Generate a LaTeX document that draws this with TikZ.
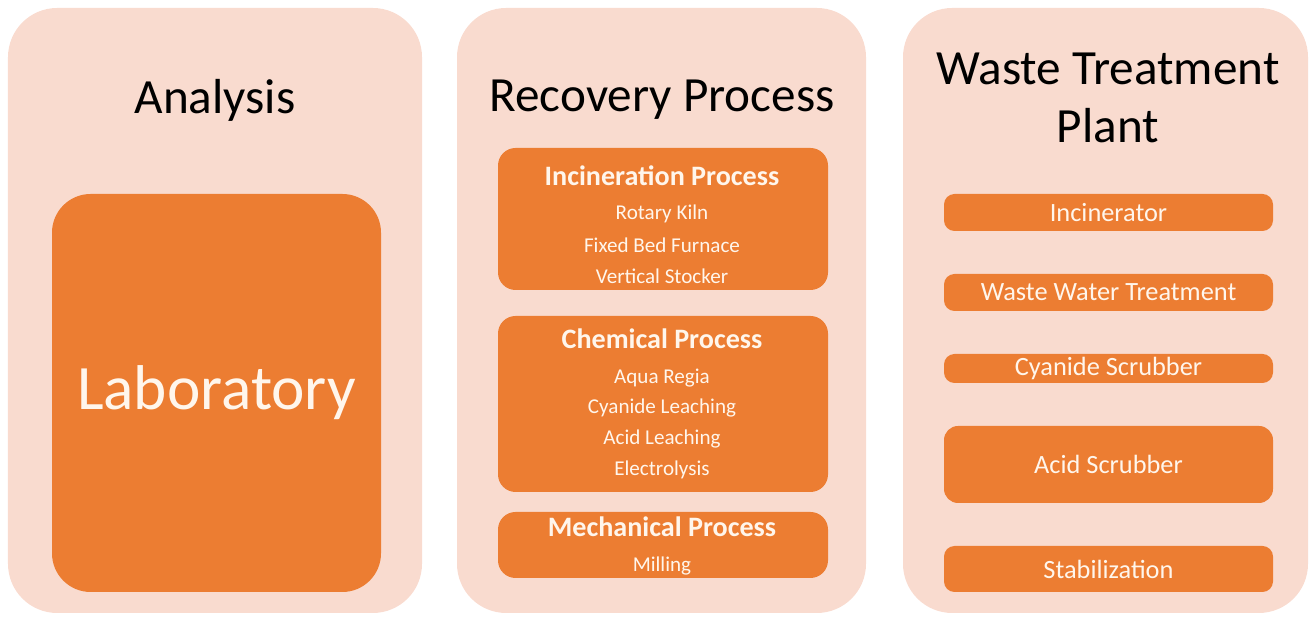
\documentclass[tikz,border=0pt]{standalone}
\usepackage{fontspec}
\setmainfont{Carlito}
\definecolor{panelpink}{RGB}{249,219,207}
\definecolor{boxorange}{RGB}{236,125,50}
\definecolor{boxtext}{RGB}{255,246,236}
\tikzset{
    panel/.style={fill=panelpink, rounded corners=14pt, inner sep=0pt},
    obox/.style={fill=boxorange, rounded corners=5pt, inner sep=0pt},
    title/.style={font=\fontsize{14}{16.5}\selectfont, align=center},
    head/.style={text=boxtext, font=\fontsize{8}{9}\selectfont\bfseries},
    item/.style={text=boxtext, font=\fontsize{6}{7}\selectfont},
    plant/.style={text=boxtext, font=\fontsize{7.5}{9}\selectfont}
}
\begin{document}
\begin{tikzpicture}

            % the frame
            \useasboundingbox (0, 0) rectangle (13.16, -6.22);

            % the panels
            \node[panel, minimum width=4.14cm, minimum height=6.05cm] (analysis) at (2.15, -3.105) {};
            \node[panel, minimum width=4.09cm, minimum height=6.05cm] (recovery) at (6.615, -3.105) {};
            \node[panel, minimum width=4.05cm, minimum height=6.05cm] (waste) at (11.055, -3.105) {};

            \node[title] (analysisT) at (2.15, -1.00) {Analysis};
            \node[title] (recoveryT) at (6.62, -1.00) {Recovery Process};
            \node[title] (wasteT) at (11.08, -0.98) {Waste Treatment\\Plant};

            % analysis
            \node[obox, rounded corners=11pt, minimum width=3.29cm, minimum height=3.98cm,
                text=boxtext, font=\fontsize{18}{20}\selectfont] (lab) at (2.165, -3.93) {Laboratory};

            % recovery process
            \node[obox, minimum width=3.30cm, minimum height=1.42cm] (incineration) at (6.63, -2.19) {};
            \node[obox, minimum width=3.30cm, minimum height=1.76cm] (chemical) at (6.63, -4.04) {};
            \node[obox, minimum width=3.30cm, minimum height=0.66cm] (mechanical) at (6.63, -5.45) {};

            \node[head] (incinerationH) at (6.62, -1.76) {Incineration Process};
            \foreach \t [count=\i] in {Rotary Kiln, Fixed Bed Furnace, Vertical Stocker} {
                \node[item] (inc\i) at (6.62, {-2.14 - 0.31*(\i-1)}) {\t};
            }

            \node[head] (chemicalH) at (6.62, -3.39) {Chemical Process};
            \foreach \t [count=\i] in {Aqua Regia, Cyanide Leaching, Acid Leaching, Electrolysis} {
                \node[item] (chem\i) at (6.62, {-3.78 - 0.305*(\i-1)}) {\t};
            }

            \node[head] (mechanicalH) at (6.62, -5.27) {Mechanical Process};
            \node[item] (mech1) at (6.62, -5.66) {Milling};

            % waste treatment plant
            \node[obox, rounded corners=3pt, minimum width=3.29cm, minimum height=0.37cm, plant] (incinerator) at (11.085, -2.125) {Incinerator};
            \node[obox, rounded corners=3pt, minimum width=3.29cm, minimum height=0.37cm, plant] (wwt) at (11.085, -2.925) {Waste Water Treatment};
            \node[obox, rounded corners=3pt, minimum width=3.29cm, minimum height=0.29cm, plant] (cyanide) at (11.085, -3.685) {Cyanide Scrubber};
            \node[obox, rounded corners=4pt, minimum width=3.29cm, minimum height=0.77cm, plant] (acid) at (11.085, -4.645) {Acid Scrubber};
            \node[obox, rounded corners=3pt, minimum width=3.29cm, minimum height=0.46cm, plant] (stabilization) at (11.085, -5.69) {Stabilization};
        \end{tikzpicture}
\end{document}
